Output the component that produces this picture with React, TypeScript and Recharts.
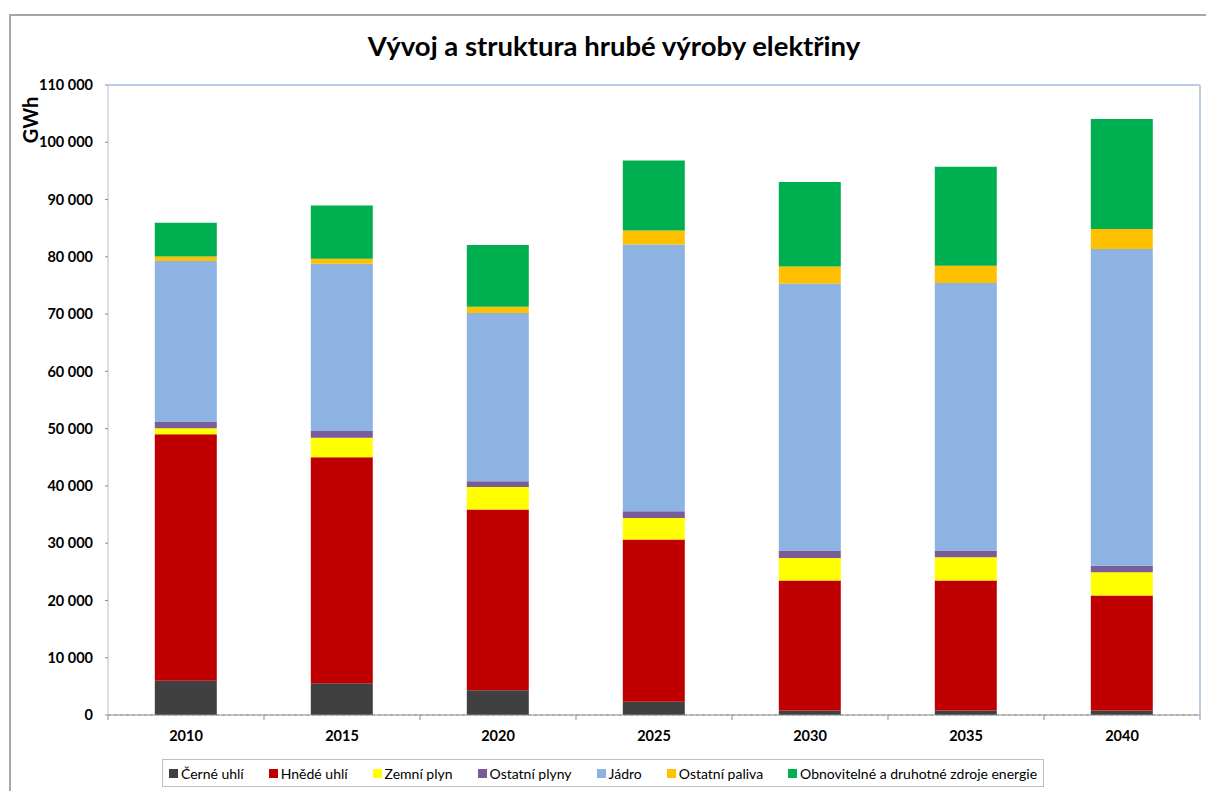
import React from 'react';
import {
  BarChart,
  Bar,
  XAxis,
  YAxis,
  CartesianGrid,
  Legend,
  ReferenceLine,
} from 'recharts';

// hrubá výroba elektřiny v GWh
const years = ['2010', '2015', '2020', '2025', '2030', '2035', '2040'];
const cerneUhli = [6000, 5550, 4300, 2300, 800, 800, 800];
const hnedeUhli = [43000, 39450, 31560, 28330, 22670, 22670, 20060];
const zemniPlyn = [1050, 3430, 3970, 3770, 3960, 4070, 4070];
const ostatniPlyny = [1200, 1170, 970, 1170, 1280, 1170, 1120];
const jadro = [28000, 29200, 29390, 46590, 46650, 46720, 55320];
const ostatniPaliva = [800, 870, 1100, 2440, 2970, 3020, 3490];
const obnovitelne = [5900, 9300, 10770, 12230, 14720, 17270, 19200];
const yTicks = [0, 10000, 20000, 30000, 40000, 50000, 60000, 70000, 80000, 90000, 100000, 110000];

const series = [
  { key: 'cerne', name: 'Černé uhlí', color: '#404040', values: cerneUhli },
  { key: 'hnede', name: 'Hnědé uhlí', color: '#c00000', values: hnedeUhli },
  { key: 'plyn', name: 'Zemní plyn', color: '#ffff00', values: zemniPlyn },
  { key: 'ostPlyny', name: 'Ostatní plyny', color: '#7a5c98', values: ostatniPlyny },
  { key: 'jadro', name: 'Jádro', color: '#8db3e2', values: jadro },
  { key: 'ostPaliva', name: 'Ostatní paliva', color: '#ffc000', values: ostatniPaliva },
  { key: 'obnov', name: 'Obnovitelné a druhotné zdroje energie', color: '#00b050', values: obnovitelne },
];

const data = years.map((year, i) => {
  const row: Record<string, string | number> = { year };
  series.forEach((s) => {
    row[s.key] = s.values[i];
  });
  return row;
});

const font = 'Lato, "Open Sans", "Liberation Sans", sans-serif';

const formatThousands = (v: number) =>
  String(v).replace(/\B(?=(\d{3})+(?!\d))/g, ' ');

const YearTick = (props: any) => {
  const { x, y, payload, width, visibleTicksCount, index } = props;
  const band = width / visibleTicksCount;
  const axisY = y - 15;
  return (
    <g>
      <line x1={x - band / 2} x2={x - band / 2} y1={axisY} y2={axisY + 5} stroke="#8c8c8c" />
      {index === visibleTicksCount - 1 && (
        <line x1={x + band / 2} x2={x + band / 2} y1={axisY} y2={axisY + 5} stroke="#8c8c8c" />
      )}
      <text x={x} y={y} dy="0.75em" textAnchor="middle" fontSize={14.5} fontWeight={700} fill="#000">
        {payload.value}
      </text>
    </g>
  );
};

const LegendBox = () => (
  <div
    style={{
      display: 'flex',
      alignItems: 'center',
      justifyContent: 'center',
      gap: 25,
      height: 26,
      border: '1px solid #bfbfbf',
      background: '#fff',
      fontFamily: font,
      fontSize: 14,
      color: '#000',
    }}
  >
    {series.map((s) => (
      <span key={s.key} style={{ display: 'flex', alignItems: 'center' }}>
        <span style={{ width: 9, height: 9, background: s.color, marginRight: 3 }} />
        {s.name}
      </span>
    ))}
  </div>
);

export default function App() {
  return (
    <div
      style={{
        position: 'absolute',
        left: 0,
        top: 0,
        width: 1206,
        height: 791,
        overflow: 'hidden',
        background: '#fff',
        fontFamily: font,
      }}
    >
      <div
        style={{
          position: 'absolute',
          left: 9,
          top: 14,
          width: 1300,
          height: 900,
          border: '2px solid #a6a6a6',
        }}
      />
      <div
        style={{
          position: 'absolute',
          left: 10,
          width: 1208,
          top: 29,
          textAlign: 'center',
          fontSize: 27.5,
          fontWeight: 700,
          color: '#000',
        }}
      >
        Vývoj a struktura hrubé výroby elektřiny
      </div>
      <div
        style={{
          position: 'absolute',
          left: 18,
          top: 120,
          transform: 'translate(-50%, -50%) rotate(-90deg)',
          transformOrigin: 'center',
          marginLeft: 12,
          fontSize: 20,
          fontWeight: 700,
          color: '#000',
        }}
      >
        GWh
      </div>
      <div style={{ position: 'absolute', left: 0, top: 0 }}>
        <BarChart
          width={1206}
          height={791}
          data={data}
          margin={{ top: 85, right: 5, bottom: 46, left: 0 }}
          barCategoryGap="30%"
        >
          <CartesianGrid
            vertical={false}
            horizontal
            stroke="#a6a6a6"
            strokeDasharray="3 3"
          />
          <XAxis
            dataKey="year"
            height={30}
            axisLine={{ stroke: '#8c8c8c' }}
            tickLine={false}
            tickSize={5}
            tickMargin={10}
            tick={<YearTick />}
            interval={0}
          />
          <YAxis
            yAxisId="left"
            width={108}
            domain={[0, 110000]}
            ticks={yTicks}
            interval={0}
            tickFormatter={formatThousands}
            axisLine={{ stroke: '#b0c0d8' }}
            tickLine={{ stroke: '#8c8c8c' }}
            tickSize={3}
            tickMargin={12}
            tick={{ fontSize: 14.5, fontWeight: 700, fill: '#000', fontFamily: font }}
          />
          <YAxis
            yAxisId="right"
            orientation="right"
            width={1}
            domain={[0, 110000]}
            tick={false}
            tickLine={false}
            axisLine={{ stroke: '#b9cde5', strokeWidth: 2 }}
          />
          <ReferenceLine yAxisId="left" y={110000} stroke="#b9cde5" strokeWidth={2} />
          {series.map((s) => (
            <Bar
              key={s.key}
              yAxisId="left"
              dataKey={s.key}
              name={s.name}
              stackId="vyroba"
              fill={s.color}
              isAnimationActive={false}
            />
          ))}
          <Legend
            layout="horizontal"
            verticalAlign="middle"
            align="center"
            content={<LegendBox />}
            wrapperStyle={{ position: 'absolute', left: 162, top: 759, width: 882, height: 28 }}
          />
        </BarChart>
      </div>
    </div>
  );
}
